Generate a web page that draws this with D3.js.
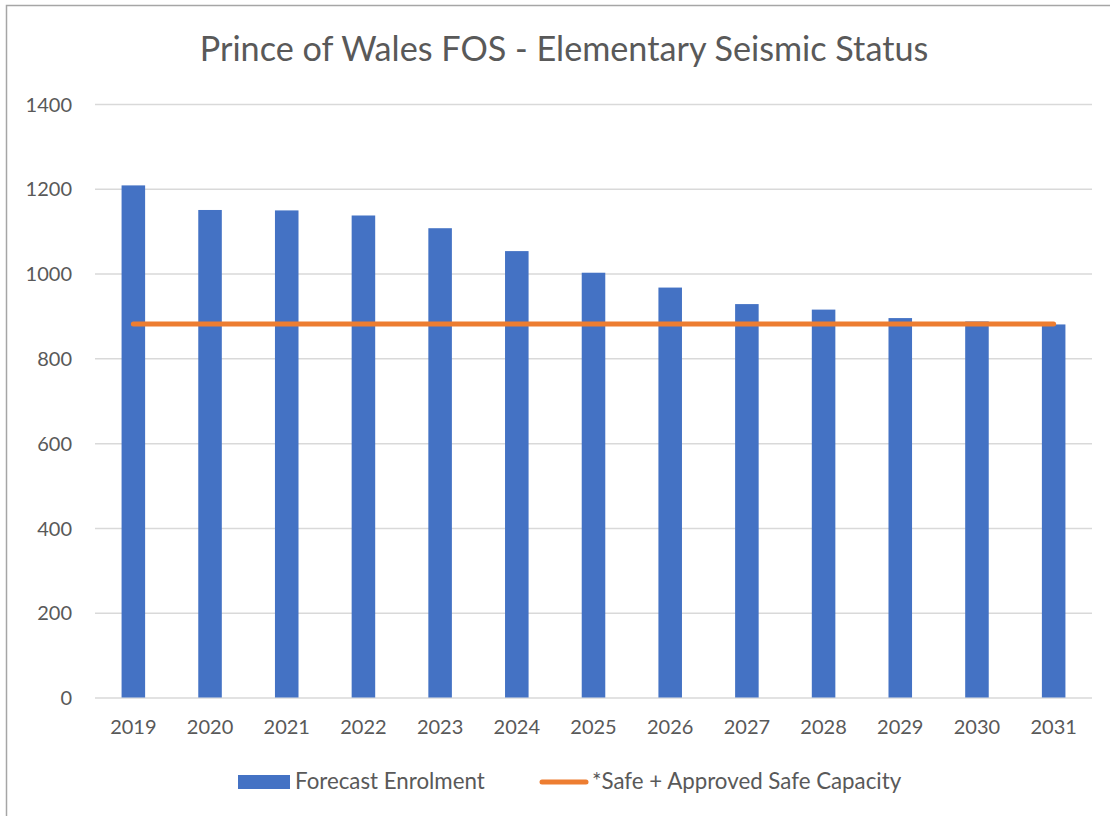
<!DOCTYPE html>
<html>
<head>
<meta charset="utf-8">
<script src="https://cdn.jsdelivr.net/npm/d3@7"></script>
<style>
  body { margin: 0; background: #fff; }
  svg { display: block; font-family: Lato, "Open Sans", sans-serif; }
</style>
</head>
<body>
<svg id="svg" width="1110" height="816"></svg>
<script>
const years = ['2019', '2020', '2021', '2022', '2023', '2024', '2025', '2026', '2027', '2028', '2029', '2030', '2031'];
const enrolment = [1208, 1150, 1149, 1137, 1107, 1053, 1002, 967, 928, 915, 895, 887, 880];
const capacity = [881, 881, 881, 881, 881, 881, 881, 881, 881, 881, 881, 881, 881];
const yTicks = [0, 200, 400, 600, 800, 1000, 1200, 1400];
const seriesNames = ['Forecast Enrolment', '*Safe + Approved Safe Capacity'];
const title = 'Prince of Wales FOS - Elementary Seismic Status';

const blue = '#4472c4';
const orange = '#ed7d31';
const textColor = '#595959';

const svg = d3.select('#svg');
const plot = { left: 95, right: 1092, top: 104, bottom: 697.5 };

// chart frame
svg.append('rect')
  .attr('x', 6.5).attr('y', 5.5)
  .attr('width', 1200).attr('height', 900)
  .attr('fill', 'none')
  .attr('stroke', '#a6a6a6')
  .attr('stroke-width', 1.5);

svg.append('text')
  .attr('x', 564).attr('y', 61)
  .attr('text-anchor', 'middle')
  .attr('fill', textColor)
  .style('font-size', '34.2px')
  .text(title);

const x = d3.scaleBand().domain(years).range([plot.left, plot.right]).padding(0);
const y = d3.scaleLinear().domain([0, 1400]).range([plot.bottom, plot.top]);

// gridlines + y labels
const yAxis = d3.axisLeft(y)
  .tickValues(yTicks)
  .tickFormat(d3.format('d'))
  .tickSizeInner(-(plot.right - plot.left))
  .tickSizeOuter(0)
  .tickPadding(23);
const gy = svg.append('g')
  .attr('transform', 'translate(' + plot.left + ',0)')
  .call(yAxis);
gy.select('.domain').remove();
gy.selectAll('.tick line').attr('stroke', '#d9d9d9').attr('stroke-width', 1.5);
gy.selectAll('.tick text')
  .attr('fill', textColor)
  .attr('dy', '0.36em')
  .style('font-size', '20px')
  .style('font-family', 'Lato, "Open Sans", sans-serif');

// x labels
const xAxis = d3.axisBottom(x).tickSize(0).tickPadding(22);
const gx = svg.append('g')
  .attr('transform', 'translate(0,' + plot.bottom + ')')
  .call(xAxis);
gx.select('.domain').remove();
gx.selectAll('.tick text')
  .attr('fill', textColor)
  .style('font-size', '20px')
  .style('font-family', 'Lato, "Open Sans", sans-serif');

// bars
const barW = x.bandwidth() * 0.307;
svg.append('g')
  .selectAll('rect')
  .data(enrolment)
  .enter()
  .append('rect')
  .attr('x', (d, i) => x(years[i]) + x.bandwidth() / 2 - barW / 2)
  .attr('y', d => y(d))
  .attr('width', barW)
  .attr('height', d => y(0) - y(d))
  .attr('fill', blue);

// capacity line
const line = d3.line()
  .x((d, i) => x(years[i]) + x.bandwidth() / 2)
  .y(d => y(d));
svg.append('path')
  .datum(capacity)
  .attr('d', line)
  .attr('fill', 'none')
  .attr('stroke', orange)
  .attr('stroke-width', 5)
  .attr('stroke-linecap', 'round');

// legend
const legend = svg.append('g');
legend.append('rect')
  .attr('x', 238).attr('y', 775)
  .attr('width', 52).attr('height', 14)
  .attr('fill', blue);
legend.append('text')
  .attr('x', 295).attr('y', 789)
  .attr('fill', textColor)
  .style('font-size', '22.3px')
  .text(seriesNames[0]);
legend.append('line')
  .attr('x1', 542).attr('x2', 586)
  .attr('y1', 782).attr('y2', 782)
  .attr('stroke', orange)
  .attr('stroke-width', 5)
  .attr('stroke-linecap', 'round');
legend.append('text')
  .attr('x', 592).attr('y', 789)
  .attr('fill', textColor)
  .style('font-size', '22.3px')
  .text(seriesNames[1]);
</script>
</body>
</html>
